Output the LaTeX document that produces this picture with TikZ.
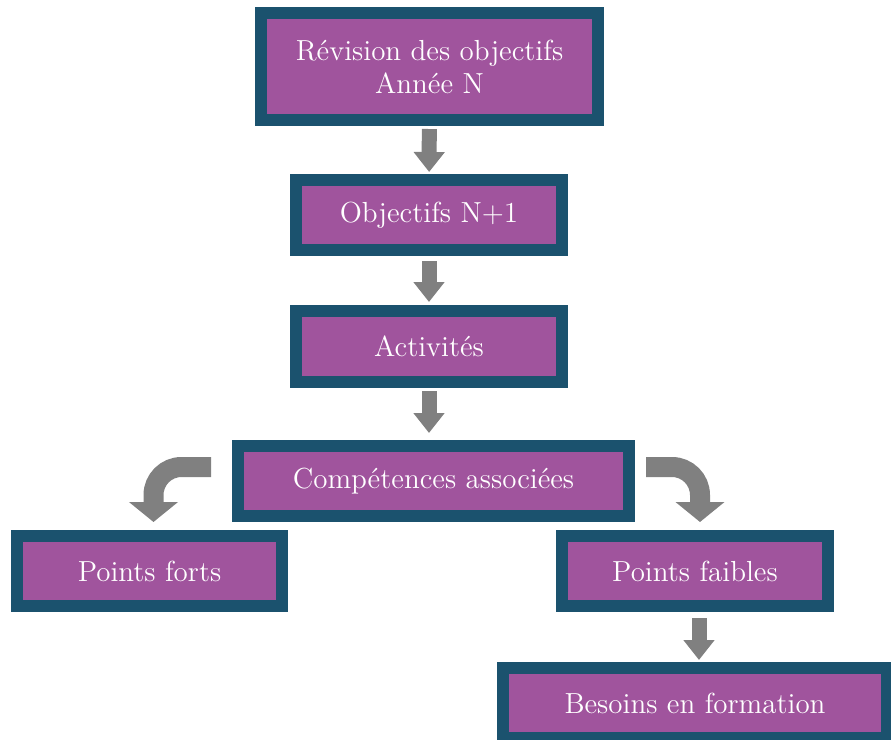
\documentclass[tikz,border=0pt]{standalone}
\usepackage{tikz}
\usetikzlibrary{arrows.meta}
\definecolor{boxedge}{RGB}{27,82,110}
\definecolor{plum}{RGB}{160,84,157}
\definecolor{flowgray}{RGB}{128,128,128}
\tikzset{
  box/.style={draw=boxedge,line width=6pt,fill=plum,text=white,inner sep=0pt,
    font=\fontsize{14.5}{16.5}\selectfont,align=center,minimum height=35pt},
  downarr/.style={-{Triangle[width=15pt,length=10pt]},line width=7.5pt,flowgray},
  turnarr/.style={-{Triangle[width=24pt,length=10pt]},line width=10pt,flowgray,
    rounded corners=14pt},
}

\begin{document}
\begin{tikzpicture}[x=0.5pt,y=-0.5pt]
  \useasboundingbox (0,0) rectangle (891,740);
  % main column
  \node[box,minimum width=168.5pt,minimum height=53.5pt] (rev) at (429.5,66.5)
    {Révision des objectifs\\Année N};
  \node[box,minimum width=133pt] (obj) at (429,215) {Objectifs N+1};
  \node[box,minimum width=133pt,minimum height=35.5pt] (act) at (429,346.5) {Activités};
  \node[box,minimum width=195.5pt] (comp) at (433.5,481) {Compétences associées};
  % split
  \node[box,minimum width=132.5pt] (forts) at (149.5,571) {Points forts};
  \node[box,minimum width=133pt] (faibles) at (695,571) {Points faibles};
  \node[box,minimum width=192pt] (besoins) at (695,703) {Besoins en formation};

  \draw[downarr,shorten <=1.5pt,shorten >=1pt] (rev) -- (obj);
  \draw[downarr,shorten <=2.5pt,shorten >=1.5pt] (obj) -- (act);
  \draw[downarr,shorten <=1.5pt,shorten >=3.5pt] (act) -- (comp.north -| act.south);
  \draw[turnarr,shorten <=10.5pt,shorten >=4pt] ([yshift=7pt]comp.west) -| ([xshift=2pt]forts.north);
  \draw[turnarr,shorten <=5.5pt,shorten >=4pt] ([yshift=7pt]comp.east) -| ([xshift=2.5pt]faibles.north);
  \draw[downarr,shorten <=3pt,shorten >=1pt] ([xshift=2pt]faibles.south) -- ([xshift=2pt]besoins.north);
\end{tikzpicture}
\end{document}
